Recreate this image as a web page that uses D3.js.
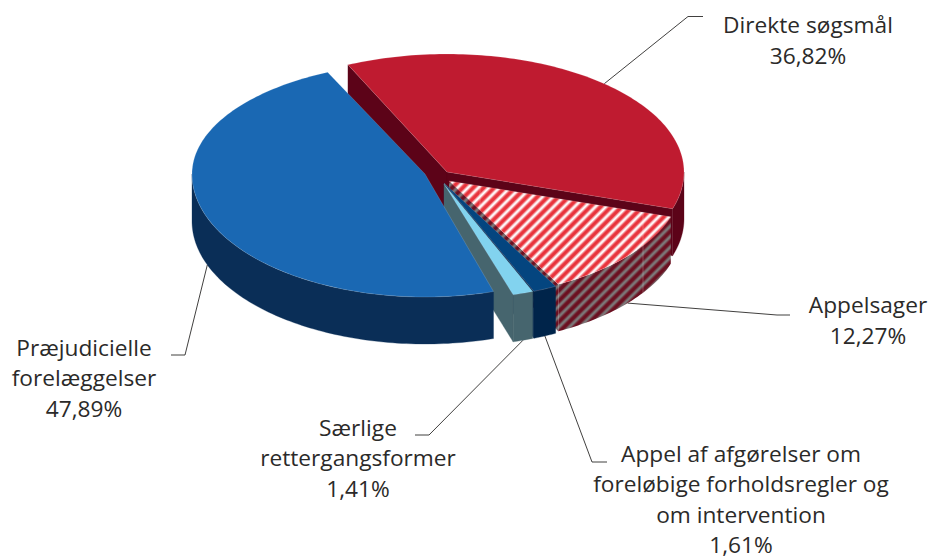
<!DOCTYPE html>
<html>
<head>
<meta charset="utf-8">
<script src="https://cdn.jsdelivr.net/npm/d3@7/dist/d3.min.js"></script>
<style>
  html, body { margin: 0; padding: 0; background: #fff; }
  text { font-family: "Open Sans", Lato, sans-serif; font-size: 22.7px; fill: #2b2a29; text-anchor: middle; }
</style>
</head>
<body>
<div id="chart"></div>
<script>
// Slice order runs clockwise from the top-left edge of the red slice.
const categories = [
  ["Direkte søgsmål"],
  ["Appelsager"],
  ["Appel af afgørelser om", "foreløbige forholdsregler og", "om intervention"],
  ["Særlige", "rettergangsformer"],
  ["Præjudicielle", "forelæggelser"]
];
const shares = [36.82, 12.27, 1.61, 1.41, 47.89];
const shareLabels = ["36,82%", "12,27%", "1,61%", "1,41%", "47,89%"];

const width = 933;
const height = 557;
const depth = 47;
const firstAngle = -24.7 * Math.PI / 180;

// Every slice is pulled out a little, so each has its own apex and radii.
const layout = [
  {apex: [447, 172], rx: 237, ryBack: 118, ryFront: 120, top: "#bf1b30", wall: "#5c0318"},
  {apex: [449, 181], rx: 233, ryBack: 117, ryFront: 117, top: "url(#hatchTop)", wall: "url(#hatchWall)"},
  {apex: [444, 183], rx: 238, ryBack: 117, ryFront: 117, top: "#04457f", wall: "#00244a"},
  {apex: [444, 184], rx: 235, ryBack: 116, ryFront: 116, top: "#82d3ef", wall: "#46656e"},
  {apex: [425, 174], rx: 233, ryBack: 112, ryFront: 123, top: "#1a68b3", wall: "#0a2e57"}
];

// Leader elbow, leader end, label centre x, first baseline, line height.
const labelLayout = [
  {elbow: [688, 16.5], end: [703, 16.5], x: 808, y: 32.7, dy: 30.8},
  {elbow: [777, 315], end: [790, 315], x: 868, y: 312.7, dy: 31.3},
  {elbow: [592, 462], end: [607, 462], x: 741, y: 462, dy: 30.4},
  {elbow: [429, 435], end: [415, 435], x: 358, y: 435.7, dy: 30.5},
  {elbow: [185, 355], end: [171, 355], x: 84, y: 355.7, dy: 30.7}
];

const svg = d3.select("#chart")
  .append("svg")
    .attr("width", width)
    .attr("height", height)
    .style("display", "block");

const defs = svg.append("defs");

function addStripes(id, dark, light) {
  const grad = defs.append("linearGradient").attr("id", id + "Grad");
  [[0, dark], [0.3, dark], [0.6, light], [0.72, light], [1, dark]].forEach(s => {
    grad.append("stop").attr("offset", s[0]).attr("stop-color", s[1]);
  });
  const pat = defs.append("pattern")
    .attr("id", id)
    .attr("patternUnits", "userSpaceOnUse")
    .attr("width", 7.4)
    .attr("height", 7.4)
    .attr("patternTransform", "rotate(45)");
  pat.append("rect")
    .attr("width", 7.4)
    .attr("height", 7.4)
    .attr("fill", `url(#${id}Grad)`);
}
addStripes("hatchTop", "#e8323b", "#ffffff");
addStripes("hatchWall", "#6b0f20", "#7c7c7c");

const pie = d3.pie()
  .sort(null)
  .startAngle(firstAngle)
  .endAngle(firstAngle + 2 * Math.PI);
const arcs = pie(shares);

// Angle is clockwise from the top, y is squashed differently back and front.
function project(g, angle, drop = 0) {
  const c = -Math.cos(angle);
  return [
    g.apex[0] + g.rx * Math.sin(angle),
    g.apex[1] + (c < 0 ? g.ryBack : g.ryFront) * c + drop
  ];
}

function rim(g, a0, a1, drop = 0) {
  const n = Math.max(2, Math.ceil((a1 - a0) / 0.02));
  return d3.range(n + 1).map(i => project(g, a0 + (a1 - a0) * i / n, drop));
}

const line = d3.line().curve(d3.curveLinear);
const closed = pts => line(pts) + "Z";

function topPath(g, d) {
  return closed([g.apex].concat(rim(g, d.startAngle, d.endAngle)));
}

function outerWallPath(g, d) {
  // only the part of the rim that faces the viewer
  const a0 = Math.max(d.startAngle, Math.PI / 2);
  const a1 = Math.min(d.endAngle, 3 * Math.PI / 2);
  if (a1 <= a0) return null;
  return closed(rim(g, a0, a1).concat(rim(g, a0, a1, depth).reverse()));
}

function cutWallPath(g, angle) {
  const p = project(g, angle);
  return closed([g.apex, p, [p[0], p[1] + depth], [g.apex[0], g.apex[1] + depth]]);
}

// Leader lines go under the slices.
arcs.forEach((d, i) => {
  const g = layout[i];
  const mid = (d.startAngle + d.endAngle) / 2;
  const start = project(g, mid, Math.cos(mid) < 0 ? depth : 0);
  svg.append("path")
    .attr("d", line([start, labelLayout[i].elbow, labelLayout[i].end]))
    .attr("fill", "none")
    .attr("stroke", "#2b2a29")
    .attr("stroke-width", 0.9);
});

// Back to front: red, hatched, navy, light blue, blue.
arcs.forEach((d, i) => {
  const g = layout[i];
  const slice = svg.append("g");
  const walls = [];
  if (Math.sin(d.startAngle) < 0) walls.push(cutWallPath(g, d.startAngle));
  if (Math.sin(d.endAngle) > 0) walls.push(cutWallPath(g, d.endAngle));
  const outer = outerWallPath(g, d);
  if (outer) walls.push(outer);

  walls.forEach(w => {
    slice.append("path")
      .attr("d", w)
      .attr("fill", g.wall)
      .attr("stroke", g.wall.startsWith("url") ? "none" : g.wall)
      .attr("stroke-width", 0.3);
  });
  slice.append("path")
    .attr("d", topPath(g, d))
    .attr("fill", g.top)
    .attr("stroke", "rgba(255,255,255,0.3)")
    .attr("stroke-width", 0.5);

  if (i === 1) {
    // faint seams across the hatched slice
    const clipId = "hatchClip";
    const clip = defs.append("clipPath").attr("id", clipId);
    clip.append("path").attr("d", topPath(g, d));
    clip.append("path").attr("d", outer);
    slice.append("g")
      .attr("clip-path", `url(#${clipId})`)
      .selectAll("line")
      .data([480, 643])
      .join("line")
        .attr("x1", x => x)
        .attr("x2", x => x)
        .attr("y1", 150)
        .attr("y2", 340)
        .attr("stroke", "rgba(255,255,255,0.28)")
        .attr("stroke-width", 0.8);
  }
});

// Labels: category lines, then the share.
categories.forEach((lines, i) => {
  const l = labelLayout[i];
  const label = svg.append("text");
  lines.concat(shareLabels[i]).forEach((t, k) => {
    label.append("tspan")
      .attr("x", l.x)
      .attr("y", l.y + k * l.dy)
      .text(t);
  });
});
</script>
</body>
</html>
